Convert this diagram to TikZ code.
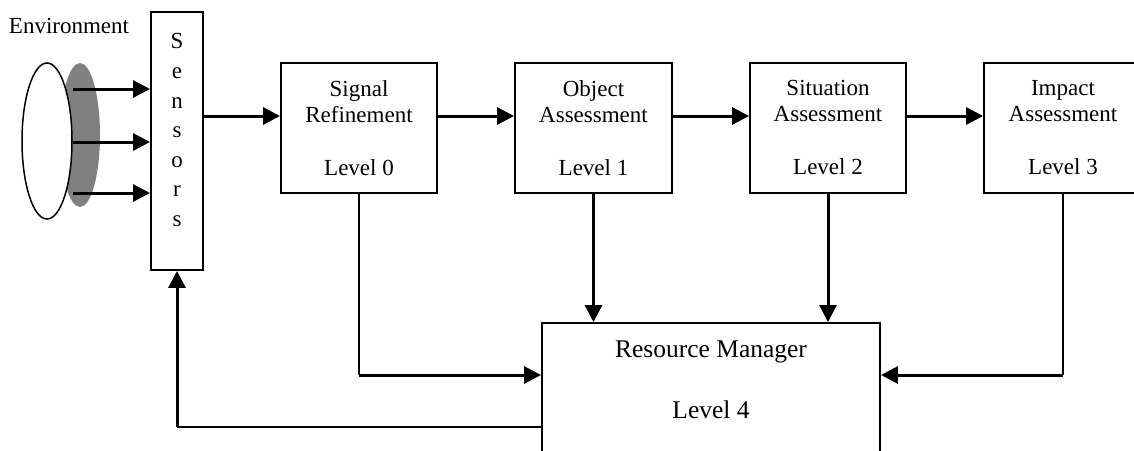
\documentclass[tikz,border=0pt]{standalone}
\usepackage{fontspec}
\setmainfont{Liberation Serif}
\usetikzlibrary{arrows.meta,shapes.geometric,calc}
\begin{document}
\begin{tikzpicture}[x=1pt,y=-1pt,
  box/.style={draw,line width=1.9pt,inner sep=0pt,minimum width=156pt,minimum height=130pt},
  txt/.style={inner sep=0pt,align=center,font=\fontsize{23}{26.5}\selectfont},
  arr/.style={line width=3pt,-{Triangle[length=17pt,width=17pt]}},
  thinline/.style={line width=2pt}]
\useasboundingbox (0,0) rectangle (1134,450);
\clip (0,0) rectangle (1134,450);
% environment
\node[txt,anchor=base] (envt) at (69,33) {Environment};
\node[ellipse,fill=gray,inner sep=0pt,minimum width=40pt,minimum height=144pt] (shadow) at (80,135) {};
\node[ellipse,draw,fill=white,line width=1.5pt,inner sep=0pt,minimum width=50pt,minimum height=156pt] (env) at (47,141) {};
% sensors
\node[draw,line width=1.9pt,inner sep=0pt,minimum width=52pt,minimum height=258pt] (sens) at (177,141) {};
\node[txt,anchor=north,font=\fontsize{23}{29.6}\selectfont] (senst) at (177,33.5) {S\\e\\n\\s\\o\\r\\s};
% level boxes
\node[box] (sig) at (359,128) {};
\node[box,minimum width=157pt] (obj) at (593.5,128) {};
\node[box] (sit) at (828,128) {};
\node[box,minimum width=158pt] (imp) at (1063,128) {};
\node[txt,anchor=north] (sigt) at (359,80) {Signal\\Refinement\\[26.5pt]Level 0};
\node[txt,anchor=north] (objt) at (593.5,80) {Object\\Assessment\\[26.5pt]Level 1};
\node[txt,anchor=north] (sitt) at (828,80) {Situation\\Assessment\\[26.5pt]Level 2};
\node[txt,anchor=north] (impt) at (1063,80) {Impact\\Assessment\\[26.5pt]Level 3};
% resource manager
\node[draw,line width=1.9pt,inner sep=0pt,minimum width=338pt,minimum height=250pt] (rm) at (711,448) {};
\node[txt,anchor=north,font=\fontsize{25.5}{30}\selectfont] (rmt) at (711,341) {Resource Manager\\[31pt]Level 4};
% helper rows
\coordinate (a1) at (0,89);
\coordinate (a2) at (0,142);
\coordinate (a3) at (0,193);
\coordinate (row) at (0,116);
\coordinate (mid) at (0,375);
\coordinate (low) at (0,427);
% connectors
\draw[arr] (env.east |- a1) -- (sens.west |- a1);
\draw[arr] (env.east |- a2) -- (sens.west |- a2);
\draw[arr] (env.east |- a3) -- (sens.west |- a3);
\draw[arr] (sens.east |- row) -- (sig.west |- row);
\draw[arr] (sig.east |- row) -- (obj.west |- row);
\draw[arr] (obj.east |- row) -- (sit.west |- row);
\draw[arr] (sit.east |- row) -- (imp.west |- row);
\draw[arr] (obj.south) -- (obj.south |- rm.north);
\draw[arr] (sit.south) -- (sit.south |- rm.north);
\draw[thinline] (sig.south) -- (sig.south |- mid) coordinate (sigc);
\draw[arr] (sigc) -- (rm.west |- mid);
\draw[thinline] (imp.south) -- (imp.south |- mid) coordinate (impc);
\draw[arr] (impc) -- (rm.east |- mid);
\draw[thinline] (rm.west |- low) -- (sens.south |- low) coordinate (sensc);
\draw[arr] (sensc) -- (sens.south);
\end{tikzpicture}
\end{document}
